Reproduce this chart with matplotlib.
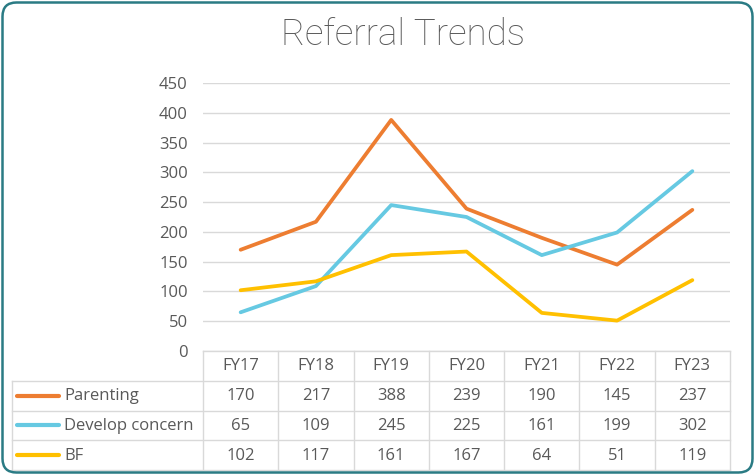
import matplotlib.pyplot as plt
from matplotlib.patches import FancyBboxPatch

years = ["FY17", "FY18", "FY19", "FY20", "FY21", "FY22", "FY23"]
parenting = [170, 217, 388, 239, 190, 145, 237]
develop = [65, 109, 245, 225, 161, 199, 302]
bf = [102, 117, 161, 167, 64, 51, 119]
series_names = ["Parenting", "Develop concern", "BF"]
series_colors = ["#ED7D31", "#66C9E2", "#FFC000"]
y_ticks = [0, 50, 100, 150, 200, 250, 300, 350, 400, 450]

W, H = 755, 475
text_gray = "#595959"
grid_gray = "#d9d9d9"
plt.rcParams['font.family'] = ['Open Sans', 'DejaVu Sans']

fig = plt.figure(figsize=(W / 100, H / 100), dpi=100)


def fbox(x0, y0, x1, y1):
    # pixel box (top-left origin) -> figure fraction rect
    return [x0 / W, 1 - y1 / H, (x1 - x0) / W, (y1 - y0) / H]


# main line chart
ax = fig.add_axes(fbox(203, 83, 730, 351))
xs = list(range(len(years)))
all_series = [parenting, develop, bf]
for vals, col in zip(all_series, series_colors):
    ax.plot(xs, vals, color=col, lw=2.7, solid_capstyle='round', zorder=3)
ax.set_xlim(-0.5, len(years) - 0.5)
ax.set_ylim(0, 450)
ax.set_yticks(y_ticks)
ax.set_xticks([])
ax.tick_params(axis='y', length=0, pad=11, labelsize=12, labelcolor=text_gray)
ax.grid(axis='y', color=grid_gray, lw=1)
for s in ax.spines.values():
    s.set_visible(False)
ax.set_axisbelow(True)

# data table underneath
col_w = 527 / len(years)
left_units = (203 - 12) / col_w
tx = fig.add_axes(fbox(12, 351, 730, 470))
tx.set_xlim(-0.5 - left_units, len(years) - 0.5)
tx.set_ylim(4, 0)
tx.axis('off')
lkw = dict(color=grid_gray, lw=1, clip_on=False)
x_left = -0.5 - left_units
x_right = len(years) - 0.5
# horizontal lines
tx.plot([-0.5, x_right], [0, 0], **lkw)
for r in [1, 2, 3, 4]:
    tx.plot([x_left, x_right], [r, r], **lkw)
# vertical lines
tx.plot([x_left, x_left], [1, 4], **lkw)
for c in range(len(years) + 1):
    tx.plot([c - 0.5, c - 0.5], [0, 4], **lkw)

for i, yr in enumerate(years):
    tx.text(i, 0.52, yr, ha='center', va='center', fontsize=12, color=text_gray)
for r, (name, vals, col) in enumerate(zip(series_names, all_series, series_colors)):
    yc = r + 1.52
    tx.plot([x_left + 0.07, x_left + 0.62], [yc - 0.02, yc - 0.02], color=col, lw=3,
            solid_capstyle='round')
    tx.text(x_left + 0.69, yc, name, ha='left', va='center', fontsize=12, color=text_gray)
    for i, v in enumerate(vals):
        tx.text(i, yc, str(v), ha='center', va='center', fontsize=12, color=text_gray)

fig.text(403 / W, 1 - 35 / H, "Referral Trends", ha='center', va='center',
         fontsize=26.5, color="#5a5a5a", family=['Roboto', 'DejaVu Sans'], fontweight='light')

# rounded outer border
border = FancyBboxPatch((0.025, 0.025), W / 100 - 0.05, H / 100 - 0.05,
                        boxstyle="round,pad=0,rounding_size=0.14",
                        transform=fig.dpi_scale_trans, fill=False,
                        edgecolor="#2A7B84", lw=1.8)
fig.patches.append(border)

fig.savefig("out.png", dpi=100)
